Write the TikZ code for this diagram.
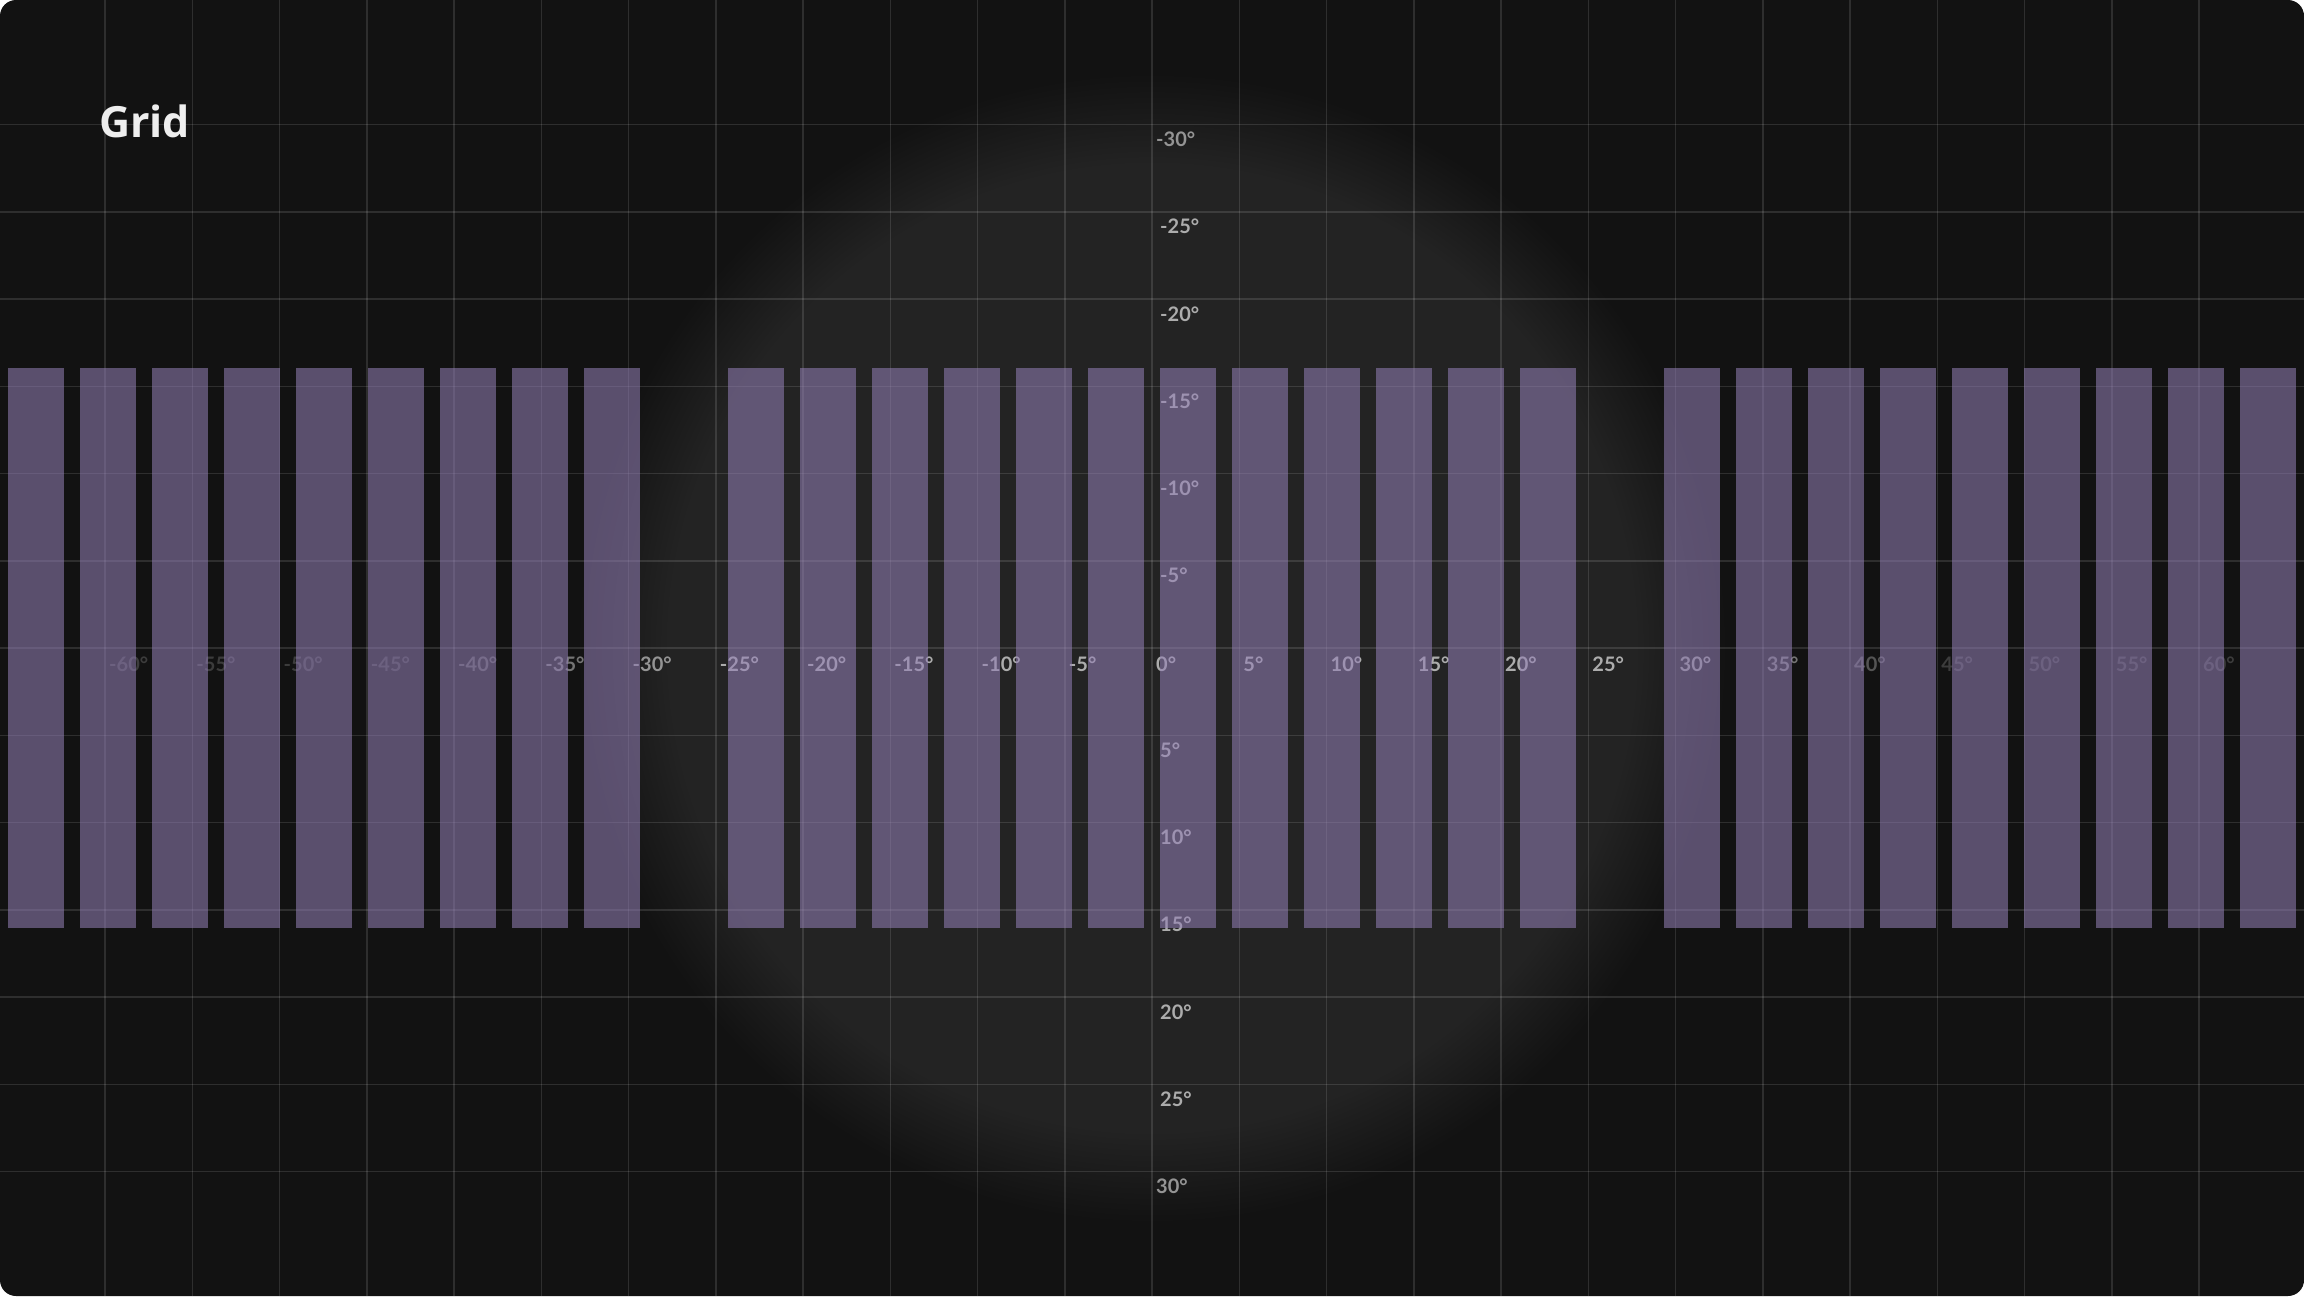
\documentclass[tikz,border=0pt]{standalone}
\usepackage{fontspec}
\setmainfont{Lato}
\newfontfamily\titlefont{Open Sans}

\definecolor{bgdark}{HTML}{121212}
\definecolor{glowgray}{HTML}{232323}
\definecolor{barpurple}{HTML}{937FB6}
\definecolor{titlewhite}{HTML}{EEEEEE}

% soft round glow in the middle (25bp is the edge of the path)
\pgfdeclareradialshading{glowshade}{\pgfpointorigin}{color(0bp)=(glowgray); color(21bp)=(glowgray); color(25bp)=(bgdark); color(50bp)=(bgdark)}

\tikzset{
  gridline/.style={white, opacity=0.12, line width=1.5pt},
  bar/.style={fill=barpurple, fill opacity=0.56},
  deglabel/.style={font=\fontsize{20}{24}\selectfont\bfseries, inner sep=0pt, anchor=base west},
}

\begin{document}
\begin{tikzpicture}[x=1pt, y=-1pt]
\useasboundingbox (0,0) rectangle (2304,1296);

% Background
\fill[white] (0,0) rectangle (2304,1296);
\fill[bgdark, rounded corners=16pt] (0,0) rectangle (2304,1296);
\shade[shading=glowshade] (1152,648) circle (575pt);

% Grid, 5 degrees a cell
\foreach \k in {-12,...,12}
  \draw[gridline] (1152+\k*87.25,0) -- (1152+\k*87.25,1296);
\foreach \k in {-6,...,6}
  \draw[gridline] (0,648+\k*87.25) -- (2304,648+\k*87.25);

% Labels along the horizontal axis
\foreach \k [count=\i] in {-12,...,12}{
  \pgfmathsetmacro{\r}{abs(\k)*87.25}
  \pgfmathsetmacro{\lv}{max(60,min(172,172-(\r-460)*0.37))/255}
  \pgfmathtruncatemacro{\dv}{\k*5}
  \definecolor{lblgray}{gray}{\lv}
  \node[deglabel, text=lblgray] (hlab\i) at (1152+\k*87.25+4,671) {\dv°};
}

% Labels along the vertical axis
\foreach \k [count=\i] in {-6,...,-1,1,2,...,6}{
  \pgfmathsetmacro{\r}{abs(\k)*87.25}
  \pgfmathsetmacro{\lv}{max(60,min(172,172-(\r-460)*0.37))/255}
  \pgfmathtruncatemacro{\dv}{\k*5}
  \pgfmathsetmacro{\dx}{ifthenelse(abs(\k)==6,4,8)}
  \definecolor{lblgray}{gray}{\lv}
  \node[deglabel, text=lblgray] (vlab\i) at (1152+\dx,648+\k*87.25+22) {\dv°};
}

% Columns (two slots left empty)
\foreach \i in {0,...,31}{
  \ifnum\i=9 \else\ifnum\i=22 \else
    \fill[bar] (8+\i*72,368) rectangle (64+\i*72,928);
  \fi\fi
}

% Title
\node[font=\titlefont\fontsize{43}{50}\selectfont\bfseries, text=titlewhite, inner sep=0pt, anchor=base west] (title) at (99,137) {Grid};

\end{tikzpicture}
\end{document}
